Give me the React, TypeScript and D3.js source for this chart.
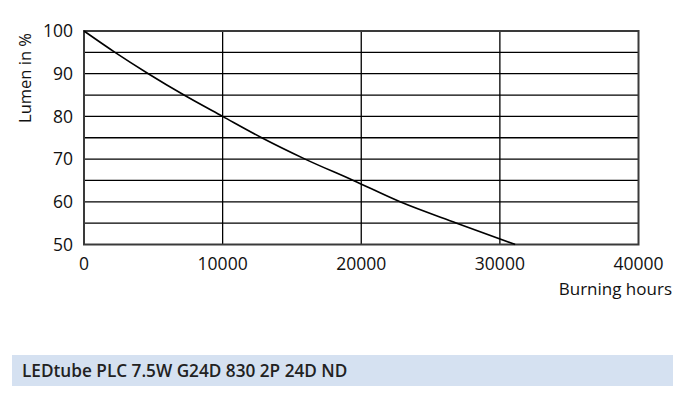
import React from "react";
import * as d3 from "d3";

const hours = [0, 2237, 4640, 7215, 10000, 12820, 15950, 19430, 22800, 26890, 31100];
const lumen = [100, 95, 90, 85, 80, 75, 70, 65, 60, 55, 50];
const xTicks = [0, 10000, 20000, 30000, 40000];
const yTicks = [50, 60, 70, 80, 90, 100];
const yGrid = [55, 60, 65, 70, 75, 80, 85, 90, 95];
const title = "LEDtube PLC 7.5W G24D 830 2P 24D ND";

export default function App() {
  const W = 694, H = 404;
  const x = d3.scaleLinear().domain([0, 40000]).range([84, 638.5]);
  const y = d3.scaleLinear().domain([50, 100]).range([244.5, 31]);
  const pts = hours.map((h, i) => [h, lumen[i]] as [number, number]);
  const line = d3.line<[number, number]>().x(d => x(d[0])).y(d => y(d[1])).curve(d3.curveMonotoneX);
  const font = "'Open Sans', 'Noto Sans', sans-serif";
  return (
    <svg width={W} height={H} style={{ position: "absolute", left: 0, top: 0, background: "#fff" }}>
      <rect width={W} height={H} fill="#fff" />
      {yGrid.map(v => (
        <line key={"h" + v} x1={x(0)} x2={x(40000)} y1={y(v)} y2={y(v)} stroke="#000" strokeWidth={1.3} />
      ))}
      {xTicks.slice(1, -1).map(v => (
        <line key={"v" + v} x1={x(v)} x2={x(v)} y1={y(100)} y2={y(50)} stroke="#000" strokeWidth={1.3} />
      ))}
      <rect x={x(0)} y={y(100)} width={x(40000) - x(0)} height={y(50) - y(100)} fill="none" stroke="#3a3a3a" strokeWidth={2} />
      <path d={line(pts) || ""} fill="none" stroke="#000" strokeWidth={1.6} />
      {yTicks.map(v => (
        <text key={"yl" + v} x={73} y={y(v) + 6.3} textAnchor="end" fontFamily={font} fontSize={17.5} fill="#111">{v}</text>
      ))}
      {xTicks.map(v => (
        <text key={"xl" + v} x={x(v)} y={270} textAnchor="middle" fontFamily={font} fontSize={17.5} fill="#111">{v}</text>
      ))}
      <text transform="translate(31,78) rotate(-90)" textAnchor="middle" fontFamily={font} fontSize={16.5} fill="#111">Lumen in %</text>
      <text x={672} y={295} textAnchor="end" fontFamily={font} fontSize={17} fill="#111">Burning hours</text>
      <rect x={12} y={355} width={661} height={31} fill="#d5e1f1" />
      <text x={22} y={377} fontFamily={font} fontSize={17.2} fontWeight={600} fill="#222">{title}</text>
    </svg>
  );
}
